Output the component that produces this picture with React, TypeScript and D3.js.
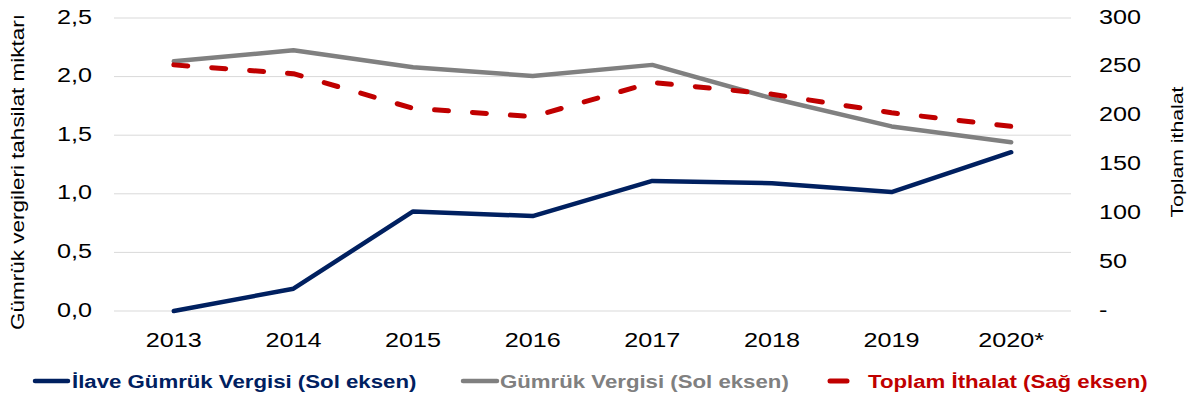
import React from "react";
import * as d3 from "d3";

const categories = ["2013", "2014", "2015", "2016", "2017", "2018", "2019", "2020*"];
const ilaveGumruk = [0.0, 0.19, 0.85, 0.81, 1.11, 1.09, 1.015, 1.355];
const gumrukVergisi = [2.13, 2.225, 2.08, 2.005, 2.1, 1.815, 1.575, 1.44];
const toplamIthalat = [252, 243, 207.5, 199, 234, 222, 203, 189];
const leftTicks = [0, 0.5, 1, 1.5, 2, 2.5];
const rightTicks = [0, 50, 100, 150, 200, 250, 300];

const W = 1194;
const H = 400;
const M = { left: 114, right: 1071, top: 18, bottom: 311 };
const SX = 1.2;

function T(props: {
  x: number;
  y: number;
  rotate?: number;
  sx?: number;
  anchor?: string;
  size: number;
  weight?: string;
  fill?: string;
  children: React.ReactNode;
}) {
  const { x, y, rotate = 0, sx = SX, anchor = "start", size, weight = "normal", fill = "#000" } = props;
  return (
    <g transform={`translate(${x},${y}) rotate(${rotate}) scale(${sx},1)`}>
      <text textAnchor={anchor} fontSize={size} fontWeight={weight} fill={fill}>
        {props.children}
      </text>
    </g>
  );
}

export default function App() {
  const x = d3.scaleBand<string>().domain(categories).range([M.left, M.right]);
  const yL = d3.scaleLinear().domain([0, 2.5]).range([M.bottom, M.top]);
  const yR = d3.scaleLinear().domain([0, 300]).range([M.bottom, M.top]);
  const cx = (c: string) => (x(c) as number) + x.bandwidth() / 2;

  const lineL = d3
    .line<number>()
    .x((_, i) => cx(categories[i]))
    .y((d) => yL(d));
  const lineR = d3
    .line<number>()
    .x((_, i) => cx(categories[i]))
    .y((d) => yR(d));

  const fmtL = (v: number) => v.toFixed(1).replace(".", ",");
  const fmtR = (v: number) => (v === 0 ? "-" : String(v));
  const font = "Liberation Sans, Arial, sans-serif";

  return (
    <svg
      width={W}
      height={H}
      style={{ position: "absolute", left: 0, top: 0, fontFamily: font }}
    >
      <rect width={W} height={H} fill="#fff" />
      {leftTicks.map((t) => (
        <line
          key={"g" + t}
          x1={M.left}
          x2={M.right}
          y1={yL(t)}
          y2={yL(t)}
          stroke="#d9d9d9"
          strokeWidth={1}
        />
      ))}
      {leftTicks.map((t) => (
        <T key={"l" + t} x={92} y={yL(t) + 5.5} anchor="end" size={21}>
          {fmtL(t)}
        </T>
      ))}
      {rightTicks.map((t) => (
        <T key={"r" + t} x={1099} y={yR(t) + 5.5} size={21}>
          {fmtR(t)}
        </T>
      ))}
      {categories.map((c) => (
        <T key={c} x={cx(c)} y={347} anchor="middle" size={21}>
          {c}
        </T>
      ))}
      <T x={24} y={172} rotate={-90} anchor="middle" size={18} sx={1.25}>
        Gümrük vergileri tahsilat miktarı
      </T>
      <T x={1183} y={152} rotate={-90} anchor="middle" size={17} sx={1.25}>
        Toplam ithalat
      </T>

      <path
        d={lineL(gumrukVergisi) || ""}
        fill="none"
        stroke="#808080"
        strokeWidth={4.5}
        strokeLinejoin="round"
        strokeLinecap="round"
      />
      <path
        d={lineR(toplamIthalat) || ""}
        fill="none"
        stroke="#c00000"
        strokeWidth={5}
        strokeDasharray="14 24"
        strokeLinejoin="round"
        strokeLinecap="round"
      />
      <path
        d={lineL(ilaveGumruk) || ""}
        fill="none"
        stroke="#002060"
        strokeWidth={4.5}
        strokeLinejoin="round"
        strokeLinecap="round"
      />

      {/* Legend */}
      <line x1={35} x2={68} y1={381} y2={381} stroke="#002060" strokeWidth={4.5} strokeLinecap="round" />
      <T x={72} y={388} size={19} weight="bold" fill="#002060" sx={1.17}>
        İlave Gümrük Vergisi (Sol eksen)
      </T>
      <line x1={463} x2={497} y1={381} y2={381} stroke="#808080" strokeWidth={4.5} strokeLinecap="round" />
      <T x={500} y={388} size={19} weight="bold" fill="#808080" sx={1.17}>
        Gümrük Vergisi (Sol eksen)
      </T>
      <line x1={830} x2={847} y1={381} y2={381} stroke="#c00000" strokeWidth={5} strokeLinecap="round" />
      <T x={868} y={388} size={19} weight="bold" fill="#c00000" sx={1.17}>
        Toplam İthalat (Sağ eksen)
      </T>
    </svg>
  );
}
